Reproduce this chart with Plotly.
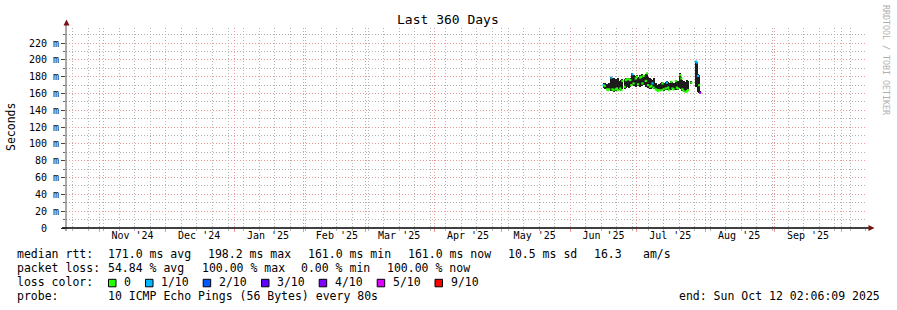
import plotly.graph_objects as go
import pandas as pd

# ---------------- data ----------------
X_START = "2024-10-17 02:06:09"
X_END = "2025-10-12 02:06:09"
DATA_START = "2025-06-15 00:00"
STEP_HOURS = 12

# smoke bottom / top and median rtt (ms), None = no data (100% loss)
lo = [None, None, 167, 166, None, 164, 163, 164, None, 163,
      163, 162, None, 163, 164, 163, None, 164, 163, 165,
      None, 166, 167, 168, None, 167, 168, 169, 170, 169,
      None, 168, 170, 169, None, 168, 170, 169, 170, None,
      168, 170, 167, None, 166, 166, 167, 165, None, 164,
      163, 162, 163, None, 163, 164, 163, None, 164, 165,
      164, 163, None, 164, 165, 164, None, 164, 165, 164,
      None, 167, 166, 163, 162, None, 162, 162, 163, None,
      None, 171, None, None, None, 168, 168, 162, 161, 161]
hi = [None, None, 172, 173, None, 171, 170, 172, None, 180,
      179, 178, None, 177, 176, 178, None, 175, 176, 177,
      None, 177, 178, 178, None, 179, 178, 179, 184, 182,
      None, 181, 182, 180, None, 182, 181, 183, 182, None,
      183, 185, 180, None, 178, 177, 176, 178, None, 172,
      170, 169, 171, None, 172, 174, 173, None, 174, 175,
      174, 172, None, 175, 174, 173, None, 176, 174, 175,
      None, 184, 180, 176, 175, None, 174, 176, 175, None,
      None, 175, None, None, None, 199, 198, 183, 182, 162]
med = [None, None, 170, 169, None, 165, 164, 165, None, 179,
       165, 164, None, 165, 166, 164, None, 166, 164, 175,
       None, 168, 176, 177, None, 177, 176, 170, 183, 172,
       None, 178, 180, 171, None, 179, 180, 172, 181, None,
       175, 184, 170, None, 168, 169, 172, 167, None, 165,
       164, 163, 164, None, 164, 172, 165, None, 166, 173,
       167, 164, None, 174, 166, 165, None, 175, 167, 166,
       None, 182, 178, 165, 163, None, 162, 163, 164, None,
       None, 173, None, None, None, 198, 197, 181, 170, 161]
# index into LOSS_LABELS / LOSS_COLORS
loss = [None, None, 1, 0, None, 0, 0, 0, None, 1,
        0, 0, None, 0, 0, 0, None, 0, 0, 0,
        None, 0, 0, 0, None, 0, 0, 0, 1, 0,
        None, 0, 0, 0, None, 0, 0, 0, 0, None,
        0, 0, 0, None, 0, 0, 1, 0, None, 0,
        0, 0, 0, None, 0, 0, 0, None, 0, 1,
        0, 0, None, 0, 0, 0, None, 0, 0, 0,
        None, 0, 0, 0, 0, None, 0, 0, 0, None,
        None, 0, None, None, None, 1, 1, 1, 0, 4]

LOSS_LABELS = ["0", "1/10", "2/10", "3/10", "4/10", "5/10", "9/10"]
LOSS_COLORS = ["#26ff00", "#00b8ff", "#0059ff", "#5e00ff", "#7e00ff", "#dd00ff", "#ff0000"]

MONTH_LABEL_DATES = ["2024-11-16", "2024-12-16", "2025-01-16", "2025-02-16",
                     "2025-03-16", "2025-04-16", "2025-05-16", "2025-06-16",
                     "2025-07-16", "2025-08-16", "2025-09-16"]
MONTH_LABELS = ["Nov '24", "Dec '24", "Jan '25", "Feb '25", "Mar '25", "Apr '25",
                "May '25", "Jun '25", "Jul '25", "Aug '25", "Sep '25"]

Y_TICKS = [0, 20, 40, 60, 80, 100, 120, 140, 160, 180, 200, 220]
Y_TICK_TEXT = ["0\u00a0\u00a0"] + [f"{v} m" for v in Y_TICKS[1:]]
Y_MAX = 238

LEGEND_RTT = ["171.0 ms avg", "198.2 ms max", "161.0 ms min", "161.0 ms now", "10.5 ms sd", "16.3", "am/s"]
LEGEND_LOSS = ["54.84 % avg", "100.00 % max", "0.00 % min", "100.00 % now"]
PROBE = "10 ICMP Echo Pings (56 Bytes) every 80s"
END_TEXT = "end: Sun Oct 12 02:06:09 2025"
TITLE = "Last 360 Days"

# ---------------- figure ----------------
W, H = 897, 310
L, R, T, B = 66, 31, 28, 82
PW, PH = W - L - R, H - T - B
MONO = "DejaVu Sans Mono"


def px(x):
    return (x - L) / PW


def py(y):
    return (T + PH - y) / PH


dates = pd.date_range(DATA_START, periods=len(med), freq=f"{STEP_HOURS}h")
idx = [i for i in range(len(med)) if med[i] is not None]
xd = [dates[i] for i in idx]

fig = go.Figure()
fig.add_trace(go.Bar(
    x=xd, y=[hi[i] - lo[i] for i in idx], base=[lo[i] for i in idx],
    width=STEP_HOURS * 3600 * 1000, marker=dict(color="#1c1c1c", line=dict(width=0)),
    hoverinfo="skip", showlegend=False))
fig.add_trace(go.Scatter(
    x=xd, y=[med[i] for i in idx], mode="markers",
    marker=dict(symbol="square", size=2.2, color=[LOSS_COLORS[loss[i]] for i in idx], line=dict(width=0)),
    hoverinfo="skip", showlegend=False))
# invisible trace so label axis is drawn
fig.add_trace(go.Scatter(x=[X_START], y=[0], xaxis="x2", mode="markers",
                         marker=dict(opacity=0), hoverinfo="skip", showlegend=False))

GRID_MAJOR = "#ee9a9a"
GRID_MINOR = "#b4b4b4"
DASH = "1px,2px"

fig.update_layout(
    width=W, height=H, margin=dict(l=L, r=R, t=T, b=B),
    paper_bgcolor="white", plot_bgcolor="white",
    bargap=0, showlegend=False,
    font=dict(family=MONO, color="black"),
    xaxis=dict(
        type="date", range=[X_START, X_END], tick0="2024-11-01", dtick="M1",
        showticklabels=False, showgrid=True, gridcolor=GRID_MAJOR, griddash=DASH, gridwidth=1,
        ticks="outside", ticklen=3, tickcolor=GRID_MAJOR, zeroline=False, showline=False,
        minor=dict(tickmode="linear", tick0="2024-10-20", dtick=7 * 86400000, showgrid=True,
                   gridcolor=GRID_MINOR, griddash=DASH, gridwidth=1,
                   ticks="outside", ticklen=2, tickcolor=GRID_MINOR),
    ),
    xaxis2=dict(
        type="date", range=[X_START, X_END], overlaying="x", anchor="y", side="bottom",
        tickmode="array", tickvals=MONTH_LABEL_DATES, ticktext=MONTH_LABELS,
        showgrid=False, ticks="", showline=False, zeroline=False,
        tickfont=dict(family=MONO, size=10, color="black"),
    ),
    yaxis=dict(
        range=[0, Y_MAX], tickmode="array", tickvals=Y_TICKS, ticktext=Y_TICK_TEXT,
        showgrid=True, gridcolor=GRID_MAJOR, griddash=DASH, gridwidth=1,
        ticks="outside", ticklen=4, tickcolor="#444", zeroline=False, showline=False,
        tickfont=dict(family=MONO, size=10, color="black"),
        minor=dict(tickmode="linear", tick0=0, dtick=10, showgrid=True,
                   gridcolor=GRID_MINOR, griddash=DASH, gridwidth=1,
                   ticks="outside", ticklen=2, tickcolor="#666"),
    ),
)

shapes = []
# axes lines with arrows
shapes.append(dict(type="line", xref="paper", yref="paper", x0=px(66), x1=px(66), y0=py(231), y1=py(23),
                   line=dict(color="#555", width=1)))
shapes.append(dict(type="line", xref="paper", yref="paper", x0=px(62), x1=px(869), y0=py(228), y1=py(228),
                   line=dict(color="black", width=1.3)))
shapes.append(dict(type="path", xref="paper", yref="paper",
                   path=f"M {px(63.5)} {py(25.5)} L {px(66.5)} {py(19.5)} L {px(69.5)} {py(25.5)} Z",
                   fillcolor="#7a1010", line=dict(width=0)))
shapes.append(dict(type="path", xref="paper", yref="paper",
                   path=f"M {px(868.5)} {py(225)} L {px(874.5)} {py(228)} L {px(868.5)} {py(231)} Z",
                   fillcolor="#7a1010", line=dict(width=0)))

ann = []


def text(s, x, y, size=11.5, anchor="left", color="black", angle=0):
    ann.append(dict(text=s, x=px(x), y=py(y), xref="paper", yref="paper", xanchor=anchor,
                    yanchor="middle", showarrow=False, borderpad=0, textangle=angle,
                    font=dict(family=MONO, size=size, color=color)))


text(TITLE, 448, 19, size=13, anchor="center")
text("Seconds", 11, 127, size=11.5, anchor="center", angle=-90)
text("RRDTOOL / TOBI OETIKER", 886, 60, size=8.3, anchor="center", color="#b0b0b0", angle=90)

ROW = [254, 268, 282, 296]
text("median rtt:", 16, ROW[0])
for s, x in zip(LEGEND_RTT, [107, 207, 307, 407, 507, 593, 642]):
    text(s, x, ROW[0])
text("packet loss:", 16, ROW[1])
for s, x in zip(LEGEND_LOSS, [107, 200.5, 300, 386]):
    text(s, x, ROW[1])
text("loss color:", 16, ROW[2])
box_x = [108.5, 145.5, 203.2, 261.5, 319.2, 377.2, 435]
for lab, col, bx in zip(LOSS_LABELS, LOSS_COLORS, box_x):
    shapes.append(dict(type="rect", xref="paper", yref="paper", x0=px(bx), x1=px(bx + 7.5),
                       y0=py(286.8), y1=py(279.3), fillcolor=col, line=dict(color="black", width=1)))
    text(lab, bx + 14.8, ROW[2])
text("probe:", 16, ROW[3])
text(PROBE, 107, ROW[3])
text(END_TEXT, 881, ROW[3], anchor="right")

fig.update_layout(shapes=shapes, annotations=ann)
fig.write_html("out.html")
